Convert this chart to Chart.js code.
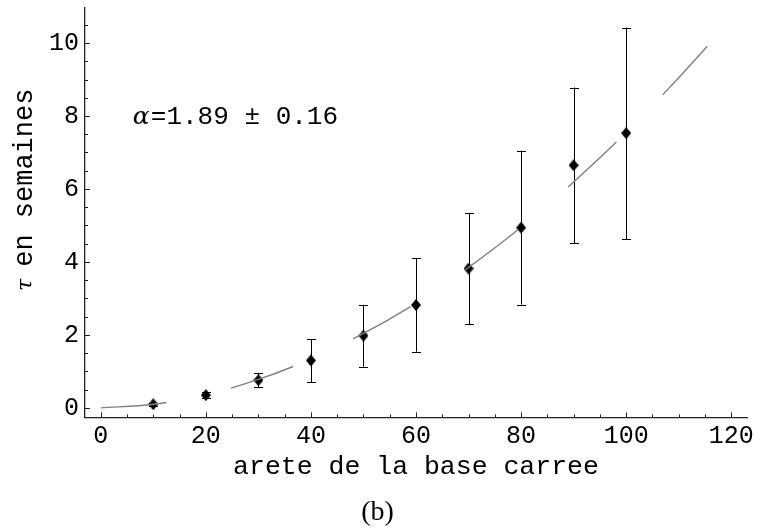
<!DOCTYPE html>
<html>
<head>
<meta charset="utf-8">
<script src="https://cdn.jsdelivr.net/npm/chart.js@4.4.0/dist/chart.umd.min.js"></script>
<style>
  html, body { margin: 0; padding: 0; background: #fff; }
  #wrap { width: 759px; height: 529px; }
</style>
</head>
<body>
<div id="wrap"><canvas id="chart"></canvas></div>
<script>
// mesures : arete de la base, tau en semaines, barres d'erreur
const arete = [10, 20, 30, 40, 50, 60, 70, 80, 90, 100];
const tau = [0.10, 0.35, 0.76, 1.30, 1.98, 2.82, 3.82, 4.94, 6.65, 7.53];
const tauBas = [0.06, 0.27, 0.56, 0.70, 1.13, 1.54, 2.29, 2.83, 4.51, 4.62];
const tauHaut = [0.14, 0.43, 0.96, 1.88, 2.83, 4.11, 5.33, 7.05, 8.78, 10.42];

// courbe d'ajustement
const ajustX = [0, 10, 20, 30, 40, 50, 60, 70, 80, 90, 100, 110, 120];
const ajustY = [0, 0.10, 0.36, 0.78, 1.34, 2.04, 2.87, 3.85, 4.95, 6.19, 7.55, 9.05, 10.65];

const xTicks = [0, 20, 40, 60, 80, 100, 120];
const yTicks = [0, 2, 4, 6, 8, 10];
const alphaTexte = '=1.89 \u00b1 0.16';
const titreY = ' en semaines';

const MONO = '"Liberation Mono", "DejaVu Sans Mono", monospace';

// losange un peu plus haut que large
const losange = document.createElement('canvas');
losange.width = 10;
losange.height = 12;
const lctx = losange.getContext('2d');
lctx.fillStyle = '#000';
lctx.beginPath();
lctx.moveTo(5, 0);
lctx.lineTo(10, 6);
lctx.lineTo(5, 12);
lctx.lineTo(0, 6);
lctx.closePath();
lctx.fill();

// graduations vers l'interieur, comme Mathematica
const graduations = {
    id: 'graduations',
    afterDraw(chart) {
        const ctx = chart.ctx;
        const x = chart.scales.x, y = chart.scales.y;
        ctx.save();
        ctx.strokeStyle = '#222';
        ctx.lineWidth = 1;
        ctx.beginPath();
        for (let v = 0; v <= 120; v += 5) {
            const px = Math.round(x.getPixelForValue(v)) + 0.5;
            const len = v % 20 === 0 ? 5 : 3;
            ctx.moveTo(px, x.top);
            ctx.lineTo(px, x.top - len);
        }
        for (let v = 0; v <= 10.5; v += 0.5) {
            const py = Math.round(y.getPixelForValue(v)) + 0.5;
            const len = v % 2 === 0 ? 5 : 3;
            ctx.moveTo(y.right, py);
            ctx.lineTo(y.right + len, py);
        }
        ctx.stroke();
        ctx.restore();
    }
};

const barresErreur = {
    id: 'barresErreur',
    beforeDatasetsDraw(chart) {
        const ctx = chart.ctx;
        const x = chart.scales.x, y = chart.scales.y;
        ctx.save();
        ctx.strokeStyle = '#000';
        ctx.lineWidth = 1;
        ctx.beginPath();
        arete.forEach((a, i) => {
            const px = Math.round(x.getPixelForValue(a)) + 0.5;
            const top = y.getPixelForValue(tauHaut[i]);
            const bot = y.getPixelForValue(tauBas[i]);
            ctx.moveTo(px, top);
            ctx.lineTo(px, bot);
            ctx.moveTo(px - 4.5, Math.round(top) + 0.5);
            ctx.lineTo(px + 4.5, Math.round(top) + 0.5);
            ctx.moveTo(px - 4.5, Math.round(bot) + 0.5);
            ctx.lineTo(px + 4.5, Math.round(bot) + 0.5);
        });
        ctx.stroke();
        ctx.restore();
    }
};

// textes : alpha de l'ajustement et titre vertical
const textes = {
    id: 'textes',
    afterDatasetsDraw(chart) {
        const ctx = chart.ctx;
        const px = chart.scales.x.getPixelForValue(6.1);
        const py = chart.scales.y.getPixelForValue(7.98);
        ctx.save();
        ctx.fillStyle = '#000';
        ctx.textBaseline = 'middle';
        ctx.font = 'italic 25px "DejaVu Serif", serif';
        ctx.fillText('\u03b1', px, py + 1);
        ctx.font = '26px ' + MONO;
        ctx.fillText(alphaTexte, px + 18, py);

        // titre de l'axe y, place un peu au-dessus du centre comme l'original
        ctx.translate(25, 291);
        ctx.rotate(-Math.PI / 2);
        ctx.font = 'italic 22px "DejaVu Serif", serif';
        ctx.fillText('\u03c4', 0, 1);
        ctx.font = '27px ' + MONO;
        ctx.fillText(titreY, 8, 0);
        ctx.restore();
    }
};

const ctx = document.getElementById('chart').getContext('2d');
new Chart(ctx, {
    type: 'scatter',
    data: {
        datasets: [{
            data: arete.map((a, i) => ({ x: a, y: tau[i] })),
            pointStyle: losange,
            pointRadius: 6,
            order: 2
        }, {
            data: ajustX.map((a, i) => ({ x: a, y: ajustY[i] })),
            showLine: true,
            borderColor: '#808080',
            borderWidth: 1.4,
            borderDash: [66, 66],
            cubicInterpolationMode: 'monotone',
            pointRadius: 0,
            fill: false,
            order: 1
        }]
    },
    plugins: [graduations, barresErreur, textes],
    options: {
        responsive: true,
        maintainAspectRatio: false,
        animation: false,
        layout: { padding: { left: 8, top: 8, right: 12, bottom: 0 } },
        scales: {
            x: {
                type: 'linear',
                min: -3,
                max: 123,
                afterBuildTicks: s => { s.ticks = xTicks.map(v => ({ value: v })); },
                afterFit: s => { s.paddingLeft = 0; s.paddingRight = 0; s.height = 78; },
                grid: { display: false, drawTicks: false },
                border: { display: true, color: '#222', width: 1.3 },
                ticks: { color: '#000', padding: 4, font: { family: MONO, size: 25 } },
                title: {
                    display: true,
                    text: 'arete de la base carree',
                    color: '#000',
                    font: { family: MONO, size: 26.5 },
                    padding: { top: 0, bottom: 13 }
                }
            },
            y: {
                type: 'linear',
                min: -0.26,
                max: 10.96,
                afterBuildTicks: s => { s.ticks = yTicks.map(v => ({ value: v })); },
                afterFit: s => { s.paddingTop = 0; s.paddingBottom = 0; s.width = 77; },
                grid: { display: false, drawTicks: false },
                border: { display: true, color: '#222', width: 1.3 },
                ticks: { color: '#000', padding: 6, font: { family: MONO, size: 25 } },
                title: { display: false }
            }
        },
        plugins: {
            legend: { display: false },
            tooltip: { enabled: false },
            title: {
                display: true,
                position: 'bottom',
                text: '(b)',
                color: '#000',
                font: { family: '"Liberation Serif", serif', size: 28, weight: 'normal' },
                padding: { top: 0, bottom: 0 }
            }
        }
    }
});
</script>
</body>
</html>
